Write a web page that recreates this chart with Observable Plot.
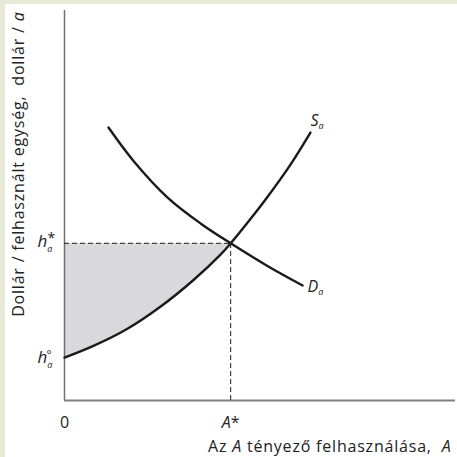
<!DOCTYPE html>
<html>
<head>
<meta charset="utf-8">
<script src="https://cdn.jsdelivr.net/npm/d3@7"></script>
<script src="https://cdn.jsdelivr.net/npm/@observablehq/plot@0.6"></script>
<style>
  html, body { margin: 0; padding: 0; background: #ffffff; }
  #chart svg { display: block; background: #ffffff; box-shadow: inset 5px 4px 0 #e8ead7; }
</style>
</head>
<body>
<div id="chart"></div>
<script>
// ---- data ----
const supplyX = [0, 0.74, 1.61, 2.46, 3.30, 3.99, 4.25, 4.76, 5.19, 5.78, 6.29];
const supplyY = [1.10, 1.40, 1.84, 2.41, 3.09, 3.74, 4.03, 4.66, 5.22, 6.05, 6.87];
const demandX = [1.125, 1.76, 2.63, 3.48, 4.25, 5.19, 6.09];
const demandY = [7.00, 6.15, 5.21, 4.54, 4.03, 3.45, 2.95];
const aStar = 4.25;
const hStar = 4.03;
const hZero = 1.10;
const xTickLabels = ["0", "A*"];
const xTickValues = [0, aStar];
const xTitleParts = [["Az ", false], ["A", true], [" tényező felhasználása,  ", false], ["A", true]];
const yTitleParts = [["Dollár / felhasznált egység,  dollár / ", false], ["a", true]];
const curveLabels = ["S", "D"];

const supply = supplyX.map((x, i) => ({x, y: supplyY[i]}));
const demand = demandX.map((x, i) => ({x, y: demandY[i]}));
const surplus = supply.filter(d => d.x <= aStar);

const font = "'Open Sans', 'Noto Sans', sans-serif";

// rich-text definitions, keyed by placeholder text
const rich = {
  "#hstar": [{t: "h", italic: true}, {t: "a", italic: true, size: 9, dy: 5}, {t: "*", size: 14, dx: -5, dy: -9}],
  "#hzero": [{t: "h", italic: true}, {t: "a", italic: true, size: 9, dy: 5}, {t: "°", size: 12, dx: -6, dy: -9}],
  "#S": [{t: curveLabels[0], italic: true}, {t: "a", italic: true, size: 9, dy: 3}],
  "#D": [{t: curveLabels[1], italic: true}, {t: "a", italic: true, size: 9, dy: 3}],
  "#xtitle": xTitleParts.map(([t, it]) => ({t, italic: it})),
  "#ytitle": yTitleParts.map(([t, it]) => ({t, italic: it})),
  "#A*": [{t: "A", italic: true}, {t: "*"}]
};

const chart = Plot.plot({
  width: 457,
  height: 457,
  marginLeft: 64,
  marginRight: 2,
  marginTop: 10,
  marginBottom: 57,
  x: {domain: [0, 10], axis: null},
  y: {domain: [0, 10], axis: null},
  style: {fontFamily: font, background: "#ffffff", overflow: "visible"},
  marks: [
    Plot.areaY(surplus, {x: "x", y1: "y", y2: () => hStar, fill: "#d9d9db", curve: "catmull-rom"}),
    Plot.ruleX([0], {y1: 0, y2: 10, stroke: "#707070", strokeWidth: 1.5}),
    Plot.ruleY([0], {x1: 0, x2: 10, stroke: "#808080", strokeWidth: 2}),
    Plot.ruleY([hStar], {x1: 0, x2: aStar, stroke: "#222", strokeWidth: 1, strokeDasharray: "5,3"}),
    Plot.ruleX([aStar], {y1: 0, y2: hStar, stroke: "#222", strokeWidth: 1, strokeDasharray: "5,3"}),
    Plot.line(demand, {x: "x", y: "y", stroke: "#1a1a1a", strokeWidth: 2.4, curve: "catmull-rom"}),
    Plot.line(supply, {x: "x", y: "y", stroke: "#1a1a1a", strokeWidth: 2.4, curve: "catmull-rom"}),
    // x tick labels
    Plot.text(xTickLabels, {x: (d, i) => xTickValues[i], y: 0, text: d => d === "A*" ? "#A*" : d, dy: 27,
      lineAnchor: "bottom", fontSize: 16, fill: "#222"}),
    // y symbols h*_a and h°_a
    Plot.text([hStar], {x: 0, y: d => d, text: () => "#hstar",
      dx: -27, dy: 4, textAnchor: "start", lineAnchor: "bottom", fontSize: 17, fill: "#222"}),
    Plot.text([hZero], {x: 0, y: d => d, text: () => "#hzero",
      dx: -27, dy: 5, textAnchor: "start", lineAnchor: "bottom", fontSize: 17, fill: "#222"}),
    // curve labels
    Plot.text(["#S"], {x: supplyX[supplyX.length - 1], y: supplyY[supplyY.length - 1], text: d => d,
      dx: 0, dy: -7, textAnchor: "start", lineAnchor: "bottom", fontSize: 16, fill: "#222"}),
    Plot.text(["#D"], {x: demandX[demandX.length - 1], y: demandY[demandY.length - 1], text: d => d,
      dx: 5, dy: 7, textAnchor: "start", lineAnchor: "bottom", fontSize: 16, fill: "#222"}),
    // axis titles
    Plot.text(["#xtitle"], {frameAnchor: "bottom-right", text: d => d,
      dx: -4, dy: 51, textAnchor: "end", lineAnchor: "bottom", fontSize: 16, fill: "#222"}),
    Plot.text(["#ytitle"], {frameAnchor: "top-left", text: d => d,
      rotate: -90, dx: -41, dy: 1, textAnchor: "end", lineAnchor: "bottom", fontSize: 16, fill: "#222"})
  ]
});

d3.select(chart).selectAll("text").each(function() {
  const key = this.textContent;
  const parts = rich[key];
  if (!parts) return;
  const t = d3.select(this);
  t.text(null);
  for (const p of parts) {
    const s = t.append("tspan").text(p.t);
    if (p.italic) s.attr("font-style", "italic");
    if (p.size) s.attr("font-size", p.size);
    if (p.dx) s.attr("dx", p.dx);
    if (p.dy) s.attr("dy", p.dy);
  }
});
d3.select(chart).selectAll("text").filter(function() {
  return this.textContent.startsWith("Az") || this.textContent.startsWith("Dollár");
}).style("letter-spacing", "0.8px");

document.getElementById("chart").appendChild(chart);
</script>
</body>
</html>
